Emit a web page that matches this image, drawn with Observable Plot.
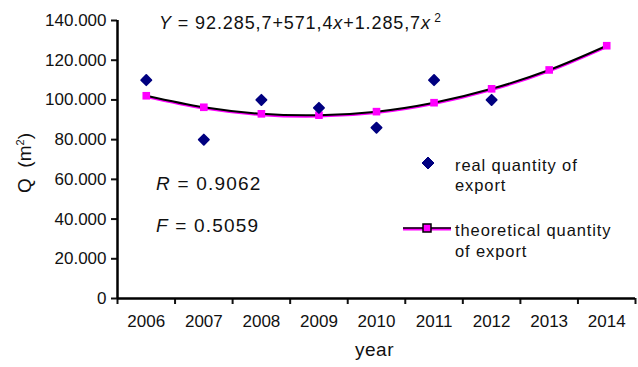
<!DOCTYPE html>
<html><head><meta charset="utf-8">
<script src="https://cdn.jsdelivr.net/npm/d3@7"></script>
<script src="https://cdn.jsdelivr.net/npm/@observablehq/plot@0.6"></script>
<style>
body{margin:0;background:#fff;}
#wrap{position:relative;width:638px;height:367px;font-family:"Liberation Sans",Arial,sans-serif;color:#111;}
.ann{position:absolute;white-space:nowrap;}
</style></head>
<body><div id="wrap"></div>
<script>
const years = [2006,2007,2008,2009,2010,2011,2012,2013,2014];
const realYears = [2006,2007,2008,2009,2010,2011,2012];
const realValues = [110000,80000,100000,96000,86000,110000,100000];
const theoValues = [102100,96300,93000,92300,94100,98600,105600,115100,127300];
const yTicks = [0,20000,40000,60000,80000,100000,120000,140000];
const yTickLabels = ["0","20.000","40.000","60.000","80.000","100.000","120.000","140.000"];

const real = realYears.map((y,i)=>({year:y,value:realValues[i]}));
const theo = years.map((y,i)=>({year:y,value:theoValues[i]}));
const bounds = [...years.map(y=>y-0.5), years[years.length-1]+0.5];
const x0 = years[0]-0.5;

const chart = Plot.plot({
  width:638, height:367,
  marginLeft:117, marginRight:3, marginTop:20, marginBottom:69,
  style:{fontFamily:"Liberation Sans, Arial, sans-serif", fontSize:"17px", background:"#fff"},
  x:{type:"linear", domain:[x0, years[years.length-1]+0.5]},
  y:{domain:[0,140000]},
  marks:[
    Plot.axisY(yTicks,{tickSize:6, strokeWidth:2, tickPadding:5, tickFormat:(d)=>yTickLabels[yTicks.indexOf(d)], label:null, fill:"#111"}),
    Plot.axisX(bounds,{tickSize:6, strokeWidth:2, tickFormat:()=>"" , label:null}),
    Plot.axisX(years,{tickSize:0, tickPadding:16, tickFormat:d=>String(d), label:null, fill:"#111"}),
    Plot.ruleX([x0],{stroke:"#000", strokeWidth:2.5}),
    Plot.ruleY([0],{stroke:"#000", strokeWidth:2.5}),
    Plot.line(theo,{x:"year", y:"value", stroke:"#ff00ff", strokeWidth:2.2, curve:"catmull-rom", dy:1.2}),
    Plot.line(theo,{x:"year", y:"value", stroke:"#000", strokeWidth:2, curve:"catmull-rom"}),
    Plot.dot(theo,{x:"year", y:"value", symbol:"square", fill:"#ff00ff", r:4.3, stroke:"none"}),
    Plot.dot(real,{x:"year", y:"value", symbol:"diamond2", fill:"#000080", stroke:"#000080", strokeWidth:1.8, strokeLinejoin:"round", r:4.6})
  ]
});
const wrap = document.getElementById("wrap");
wrap.appendChild(chart);

function ann(html, left, top, size, extra){
  const d=document.createElement("div");
  d.className="ann"; d.innerHTML=html;
  d.style.left=left+"px"; d.style.top=top+"px"; d.style.fontSize=size+"px";
  if(extra) Object.assign(d.style, extra);
  wrap.appendChild(d); return d;
}
ann('<i>Y</i> = 92.285,7+571,4<i>x</i>+1.285,7<i>x</i><sup style="font-size:12px">&thinsp;2</sup>', 159, 11, 18, {letterSpacing:"0.9px"});
ann('<i>R</i> = 0.9062', 156, 173, 19, {letterSpacing:"1.2px"});
ann('<i>F</i> = 0.5059', 156, 215, 19, {letterSpacing:"1.2px"});
ann('year', 355, 339, 19, {letterSpacing:"0.5px"});
ann('Q &nbsp;(m<sup style="font-size:11px">2</sup>)', 0, 0, 19, {transform:"translate(-50%,-50%) rotate(-90deg)", left:"25px", top:"163px", position:"absolute"});

// legend
ann('<svg width="14" height="14"><path d="M7 1 L13 7 L7 13 L1 7Z" fill="#000080" stroke="#000080" stroke-linejoin="round"/></svg>', 421, 156, 14);
ann('real quantity of<br>export', 455, 155, 16.5, {lineHeight:"20px", letterSpacing:"0.9px"});
ann('<svg width="48" height="12"><line x1="0" y1="6" x2="48" y2="6" stroke="#ff00ff" stroke-width="3"/><line x1="0" y1="5" x2="48" y2="5" stroke="#000" stroke-width="1.5"/><rect x="20" y="1" width="8" height="8" fill="#ff00ff" stroke="#000" stroke-width="1.5"/></svg>', 403, 222, 14);
ann('theoretical quantity<br>of export', 455, 220, 16.5, {lineHeight:"21px", letterSpacing:"0.9px"});
</script></body></html>
